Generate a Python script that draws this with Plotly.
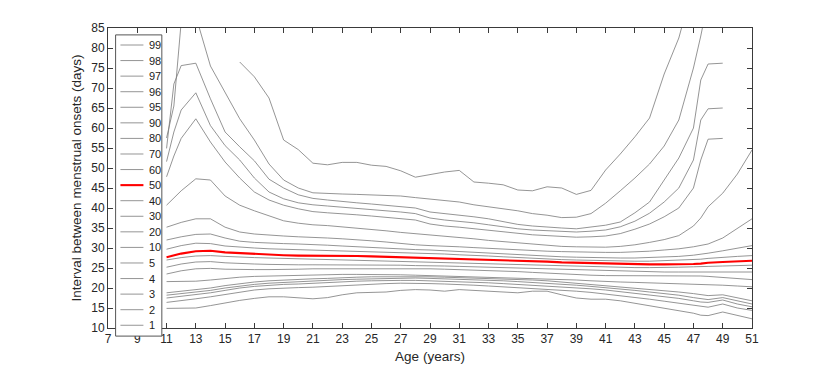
import plotly.graph_objects as go

ages = [11, 11.5, 12, 13, 14, 15, 16, 17, 18, 19, 20, 21, 22, 23, 24, 25, 26, 27, 28, 29,
        30, 31, 32, 33, 34, 35, 36, 37, 38, 39, 40, 41, 42, 43, 44, 45, 46, 47, 47.5,
        48, 49, 50, 51]

N = None
p99 = [N, N, N, N, N, N, 76.5, 72.8, 67.5, 57.0, 54.6, 51.2, 50.8, 51.4, 51.4, 50.7, 50.4, 49.3, 47.7, 48.4,
       49.0, 49.4, 46.5, 46.2, 45.8, 44.5, 44.3, 45.3, 45.0, 43.4, 44.4, 49.5, 53.5, 57.8, 62.5, 73.5, 82.5, 96.0, N,
       N, N, N, N]
p98 = [57.5, 65.5, 86.5, 88.0, 75.5, 69.0, 62.3, 57.0, 51.0, 47.0, 45.0, 43.8, 43.6, 43.5, 43.4, 43.3, 43.1, 43.0, 42.6, 42.2,
       41.9, 41.5, 40.8, 40.3, 39.8, 39.3, 38.6, 38.2, 37.6, 37.7, 38.6, 41.2, 44.3, 47.5, 51.0, 55.5, 62.0, 75.0, 83.0,
       92.0, N, N, N]
p97 = [54.9, 71.0, 75.6, 76.2, 67.3, 59.0, 55.3, 51.8, 47.2, 45.0, 43.3, 42.4, 42.0, 41.6, 41.3, 41.0, 40.7, 40.4, 40.0, 39.0,
       38.6, 38.3, 37.8, 37.3, 36.6, 35.9, 35.5, 35.2, 35.0, 34.8, 35.2, 35.7, 36.5, 38.8, 41.5, 47.0, 52.5, 60.0, 72.0,
       76.0, 76.2, N, N]
p96 = [51.6, 59.0, 64.5, 68.8, 60.6, 55.6, 52.0, 47.5, 44.0, 42.3, 41.3, 40.8, 40.5, 40.2, 40.0, 39.7, 39.3, 39.0, 38.6, 37.5,
       37.0, 36.7, 36.3, 35.8, 35.3, 34.8, 34.5, 34.3, 34.1, 34.0, 34.2, 34.5, 35.3, 36.7, 38.7, 41.5, 45.0, 52.0, 62.0,
       64.8, 65.0, N, N]
p95 = [47.8, 53.0, 57.4, 62.3, 56.5, 51.5, 47.5, 44.0, 42.0, 40.7, 39.8, 39.1, 38.8, 38.6, 38.3, 38.0, 37.7, 37.4, 37.0, 36.0,
       35.5, 35.2, 34.8, 34.4, 34.0, 33.6, 33.3, 33.1, 32.9, 32.7, 32.8, 33.0, 33.6, 34.7, 36.0, 37.8, 40.0, 45.0, 52.0,
       57.2, 57.4, N, N]
p90 = [40.7, 42.5, 44.3, 47.3, 47.0, 43.0, 40.7, 39.3, 38.0, 36.8, 36.2, 35.8, 35.6, 35.3, 35.0, 34.7, 34.3, 33.9, 33.6, 33.2,
       32.9, 32.6, 32.3, 31.9, 31.6, 31.3, 31.0, 30.7, 30.4, 30.3, 30.2, 30.2, 30.4, 30.8, 31.4, 32.1, 33.1, 35.5, 37.5,
       40.3, 43.7, 48.5, 54.5]
p80 = [35.2, 35.8, 36.4, 37.3, 37.3, 35.2, 34.0, 33.5, 33.2, 33.0, 32.8, 32.7, 32.5, 32.3, 32.1, 31.8, 31.5, 31.1, 30.8, 30.6,
       30.5, 30.3, 30.1, 29.9, 29.7, 29.5, 29.3, 29.2, 29.1, 29.0, 28.9, 28.9, 28.9, 29.0, 29.2, 29.5, 29.8, 30.3, 30.6,
       31.0, 32.5, 35.0, 37.3]
p70 = [32.0, 32.4, 32.8, 33.4, 33.5, 32.5, 31.7, 31.4, 31.2, 31.1, 31.0, 30.9, 30.7, 30.5, 30.3, 30.1, 29.9, 29.8, 29.6, 29.5,
       29.3, 29.1, 28.9, 28.7, 28.5, 28.3, 28.1, 28.0, 27.8, 27.7, 27.6, 27.5, 27.5, 27.5, 27.6, 27.7, 27.9, 28.2, 28.4,
       28.7, 29.3, 29.9, 30.6]
p60 = [29.7, 30.1, 30.6, 31.2, 31.1, 30.5, 30.2, 30.0, 29.8, 29.7, 29.6, 29.5, 29.4, 29.3, 29.2, 29.1, 28.9, 28.8, 28.7, 28.6,
       28.5, 28.3, 28.2, 28.0, 27.8, 27.6, 27.4, 27.2, 27.1, 27.0, 26.9, 26.8, 26.7, 26.7, 26.7, 26.8, 26.9, 27.1, 27.2,
       27.4, 27.7, 27.9, 28.1]
p50 = [27.7, 28.2, 28.6, 29.2, 29.3, 28.9, 28.7, 28.6, 28.4, 28.2, 28.1, 28.1, 28.1, 28.1, 28.0, 27.9, 27.8, 27.7, 27.6, 27.5,
       27.4, 27.3, 27.2, 27.1, 27.0, 26.8, 26.7, 26.6, 26.4, 26.3, 26.2, 26.1, 26.0, 25.9, 25.9, 25.9, 25.9, 26.0, 26.1,
       26.3, 26.5, 26.7, 26.8]
p40 = [27.0, 27.3, 27.6, 28.0, 28.1, 27.9, 27.7, 27.6, 27.5, 27.4, 27.4, 27.3, 27.2, 27.1, 27.0, 26.9, 26.8, 26.7, 26.6, 26.5,
       26.4, 26.3, 26.2, 26.1, 26.0, 25.9, 25.8, 25.6, 25.5, 25.4, 25.3, 25.2, 25.1, 25.1, 25.1, 25.1, 25.2, 25.3, 25.3,
       25.4, 25.5, 25.6, 25.7]
p30 = [25.2, 25.6, 26.0, 26.5, 26.6, 26.3, 26.1, 26.0, 25.9, 25.8, 25.8, 25.8, 25.8, 25.8, 25.8, 25.8, 25.7, 25.7, 25.6, 25.6,
       25.5, 25.4, 25.3, 25.2, 25.1, 25.0, 24.9, 24.8, 24.6, 24.5, 24.4, 24.3, 24.2, 24.1, 24.0, 24.0, 24.0, 24.0, 24.0,
       24.0, 24.0, 24.0, 24.0]
p20 = [23.5, 23.9, 24.3, 24.8, 24.9, 24.7, 24.6, 24.6, 24.6, 24.6, 24.7, 24.8, 24.8, 24.9, 24.9, 24.9, 24.9, 24.8, 24.8, 24.8,
       24.7, 24.6, 24.5, 24.4, 24.2, 24.1, 23.9, 23.7, 23.5, 23.3, 23.2, 23.1, 23.1, 23.1, 23.1, 23.1, 23.1, 23.1, 23.0,
       22.9, 22.6, 22.3, 22.1]
p10 = [21.6, 21.6, 21.6, 21.7, 22.0, 22.4, 22.7, 22.9, 23.0, 23.1, 23.2, 23.25, 23.3, 23.4, 23.4, 23.4, 23.4, 23.3, 23.2, 23.1,
       23.0, 22.9, 22.8, 22.7, 22.6, 22.5, 22.4, 22.3, 22.1, 22.0, 21.8, 21.6, 21.5, 21.4, 21.3, 21.2, 21.1, 21.0, 20.9,
       20.8, 20.7, 20.5, 20.3]
p5 = [18.8, 19.0, 19.2, 19.5, 20.0, 20.6, 21.1, 21.5, 21.8, 22.0, 22.1, 22.3, 22.4, 22.6, 22.7, 22.8, 22.8, 22.9, 22.9, 22.8,
      22.7, 22.6, 22.5, 22.4, 22.3, 22.1, 22.0, 21.8, 21.5, 21.2, 20.9, 20.6, 20.3, 20.0, 19.7, 19.3, 19.0, 18.6, 18.3,
      18.1, 18.3, 17.5, 16.8]
p4 = [18.2, 18.4, 18.6, 18.9, 19.4, 20.0, 20.5, 20.9, 21.2, 21.4, 21.6, 21.8, 21.9, 22.1, 22.2, 22.3, 22.4, 22.5, 22.5, 22.4,
      22.3, 22.2, 22.1, 22.0, 21.8, 21.6, 21.4, 21.2, 20.9, 20.7, 20.4, 20.1, 19.8, 19.4, 19.0, 18.6, 18.2, 17.6, 17.3,
      17.1, 17.6, 16.8, 16.0]
p3 = [17.5, 17.7, 17.9, 18.3, 18.8, 19.4, 20.0, 20.4, 20.7, 20.9, 21.0, 21.2, 21.4, 21.6, 21.7, 21.8, 21.9, 21.9, 21.9, 21.8,
      21.7, 21.6, 21.5, 21.3, 21.1, 20.9, 20.7, 20.5, 20.3, 20.1, 19.8, 19.5, 19.1, 18.7, 18.3, 17.9, 17.4, 16.8, 16.5,
      16.4, 17.0, 16.0, 15.3]
p2 = [16.4, 16.6, 16.9, 17.3, 17.8, 18.4, 19.0, 19.5, 19.8, 20.0, 20.1, 20.2, 20.4, 20.6, 20.8, 21.0, 21.1, 21.2, 21.2, 21.1,
      21.0, 20.9, 20.7, 20.5, 20.3, 20.1, 19.9, 19.6, 19.4, 19.2, 18.9, 18.5, 18.1, 17.6, 17.2, 16.7, 16.2, 15.6, 15.3,
      15.2, 16.0, 15.0, 14.4]
p1 = [14.9, 14.9, 14.9, 15.0, 15.6, 16.3, 16.9, 17.4, 17.8, 17.8, 17.5, 17.3, 17.6, 18.3, 18.8, 18.9, 19.0, 19.4, 19.6, 19.5,
      19.2, 19.6, 19.4, 19.2, 18.9, 18.8, 19.2, 19.2, 18.3, 17.5, 17.2, 17.2, 16.8, 16.2, 15.5, 14.9, 14.3, 13.7, 13.2,
      13.1, 14.0, 13.2, 12.3]

percentiles = [99, 98, 97, 96, 95, 90, 80, 70, 60, 50, 40, 30, 20, 10, 5, 4, 3, 2, 1]
series = [p99, p98, p97, p96, p95, p90, p80, p70, p60, p50, p40, p30, p20, p10, p5, p4, p3, p2, p1]

x_ticks = list(range(7, 52, 2))
y_ticks = list(range(10, 86, 5))

GRAY = "#7a7a7a"
RED = "#ff0000"
AXIS = "#3a3a3a"
FONT = "Liberation Sans, Arial, sans-serif"

fig = go.Figure()
for pct, vals in zip(percentiles, series):
    red = pct == 50
    fig.add_trace(go.Scatter(
        x=ages, y=vals, mode="lines", name=str(pct),
        line=dict(color=RED if red else GRAY, width=2.1 if red else 0.8),
        connectgaps=False, showlegend=False,
    ))

# hand-built legend box (MATLAB style, tighter than plotly's legend spacing)
shapes = [dict(type="rect", xref="paper", yref="paper",
               x0=0.0118, x1=0.0836, y0=-0.027, y1=0.977,
               line=dict(color="#555555", width=1), fillcolor="white", layer="above")]
annotations = []
for k, pct in enumerate(percentiles):
    py = 45 + k * 15.57
    yp = (328 - py) / 300
    red = pct == 50
    shapes.append(dict(type="line", xref="paper", yref="paper",
                       x0=0.0193, x1=0.055, y0=yp, y1=yp, layer="above",
                       line=dict(color=RED if red else GRAY, width=2.1 if red else 0.8)))
    annotations.append(dict(xref="paper", yref="paper", x=0.061, y=yp, text=str(pct),
                            showarrow=False, xanchor="left", yanchor="middle",
                            font=dict(size=11, color="#222222", family=FONT)))

# page body has an 8px margin, so the figure is 8px smaller than the window
fig.update_layout(
    width=822, height=360,
    margin=dict(l=100, r=78, t=20, b=40),
    paper_bgcolor="white", plot_bgcolor="white",
    font=dict(family=FONT, size=12, color="#262626"),
    shapes=shapes, annotations=annotations,
    showlegend=False,
)
fig.update_xaxes(
    range=[7, 51], tickvals=x_ticks, ticks="inside", ticklen=5, tickcolor=AXIS,
    showline=True, linecolor=AXIS, linewidth=1, mirror="ticks", showgrid=False, zeroline=False,
    automargin=False,
    title=dict(text="Age (years)", font=dict(size=13.5), standoff=6),
    tickfont=dict(size=12),
)
fig.update_yaxes(
    range=[10, 85], tickvals=y_ticks, ticks="inside", ticklen=5, tickcolor=AXIS,
    showline=True, linecolor=AXIS, linewidth=1, mirror="ticks", showgrid=False, zeroline=False,
    automargin=False,
    title=dict(text="Interval between menstrual onsets (days)", font=dict(size=13.5), standoff=6),
    tickfont=dict(size=12),
)

fig.write_html("out.html")
